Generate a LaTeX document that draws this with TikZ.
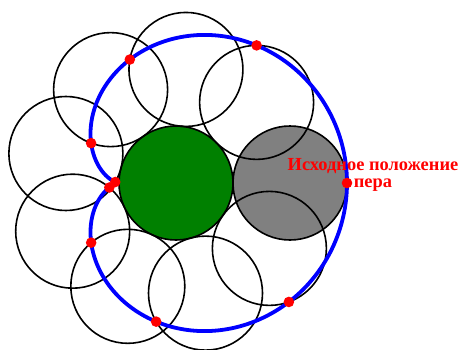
\documentclass[tikz,border=0pt]{standalone}
\usepackage{fontspec}
\setmainfont{Liberation Serif}
\usepackage{tikz}
\usepackage{xcolor}
\usetikzlibrary{positioning}
\definecolor{fixgreen}{RGB}{0,128,0}
\definecolor{rollgray}{RGB}{128,128,128}
\definecolor{penblue}{RGB}{0,0,255}
\definecolor{penred}{RGB}{255,0,0}
\tikzset{
  rollcircle/.style={draw=black, line width=1.6pt},
  trace/.style={draw=penblue, line width=3.8pt},
  pendot/.style={fill=penred},
  pentext/.style={text=penred, font=\bfseries\fontsize{18.4}{17}\selectfont, align=center, inner sep=0pt}
}
\begin{document}
\begin{tikzpicture}[x=1pt, y=1pt]
  \useasboundingbox (-176,-166) rectangle (284,183);
  \coordinate (fixc) at (0,0);
  \coordinate (rollc) at (114,0);
  % the fixed wheel and the rolling wheel at its start
  \draw[fill=fixgreen, line width=1.6pt] (fixc) circle (57);
  \draw[fill=rollgray, line width=1.6pt] (rollc) circle (57);
  % further positions of the rolling wheel
  \foreach \t in {45,85,...,325}
    \draw[rollcircle] (\t:114) circle (57);
  % path of the pen
  \draw[trace] plot[domain=0:360, samples=181, smooth]
    ({114*cos(\x)+57*cos(2*\x)}, {114*sin(\x)+57*sin(2*\x)}) -- cycle;
  \foreach \t in {0,45,85,...,325}
    \fill[pendot] ({114*cos(\t)+57*cos(2*\t)}, {114*sin(\t)+57*sin(2*\t)}) circle (5.3);
  \node[pentext] (start) at (197,8) {Исходное положение\\пера};
\end{tikzpicture}
\end{document}
